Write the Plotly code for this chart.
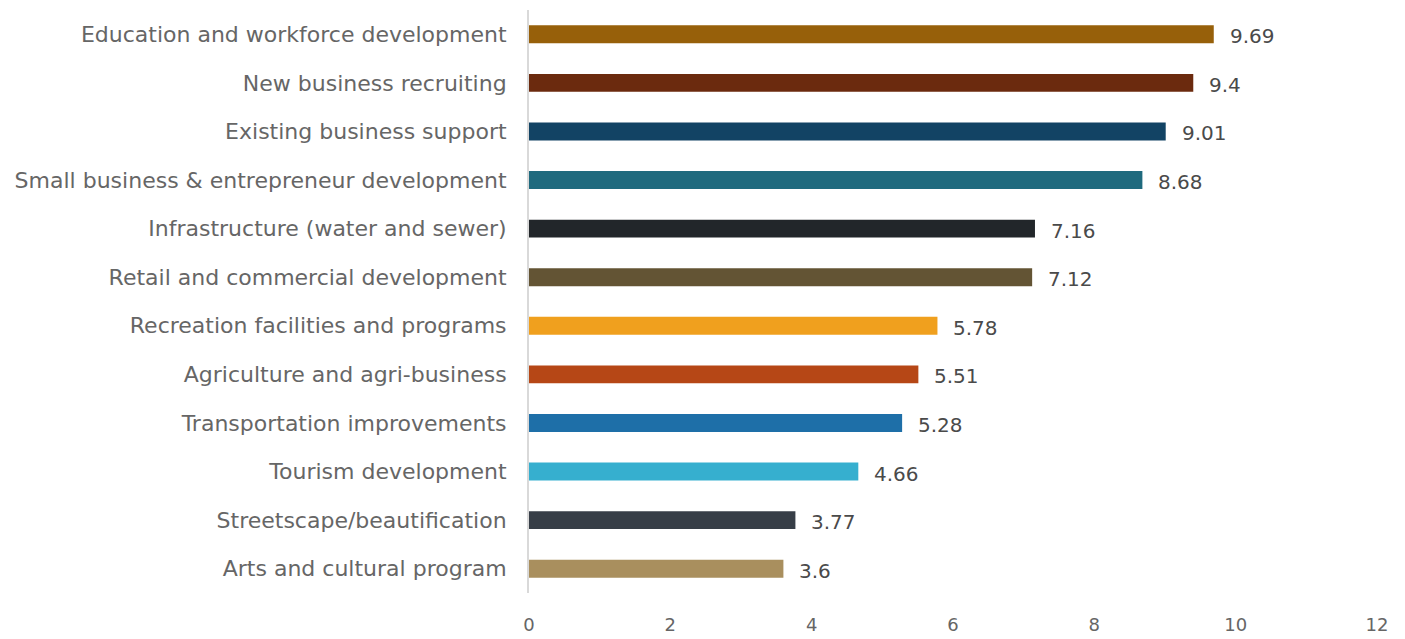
import plotly.graph_objects as go

# Priority areas, listed top to bottom
categories = [
    "Education and workforce development",
    "New business recruiting",
    "Existing business support",
    "Small business & entrepreneur development",
    "Infrastructure (water and sewer)",
    "Retail and commercial development",
    "Recreation facilities and programs",
    "Agriculture and agri-business",
    "Transportation improvements",
    "Tourism development",
    "Streetscape/beautification",
    "Arts and cultural program",
]
scores = [9.69, 9.4, 9.01, 8.68, 7.16, 7.12, 5.78, 5.51, 5.28, 4.66, 3.77, 3.6]
bar_colors = [
    "#97600A", "#6B2A0E", "#124364", "#1F6A7E", "#22262A", "#635434",
    "#F0A01E", "#B64716", "#1E6FA8", "#36AFCF", "#373E47", "#A98F5E",
]
x_ticks = [0, 2, 4, 6, 8, 10, 12]

FONT = "DejaVu Sans"

fig = go.Figure(
    go.Bar(
        x=scores,
        y=categories,
        orientation="h",
        marker=dict(color=bar_colors, line=dict(width=0)),
        width=0.37,
        hoverinfo="x+y",
    )
)

# Value labels to the right of each bar
for cat, val in zip(categories, scores):
    fig.add_annotation(
        x=val, y=cat, text=f"{val:g}", showarrow=False,
        xanchor="left", yanchor="middle", xshift=14, yshift=-2,
        font=dict(family=FONT, size=20, color="#4a4a4a"),
    )

fig.update_layout(
    width=1405, height=639,
    margin=dict(l=529, r=28, t=10, b=46, autoexpand=False),
    paper_bgcolor="white", plot_bgcolor="white",
    showlegend=False,
    font=dict(family=FONT, size=22, color="#666666"),
)
fig.update_xaxes(
    range=[0, 12], tickvals=x_ticks, ticktext=[str(t) for t in x_ticks],
    showgrid=False, zeroline=False, showline=False,
    ticks="", ticklabelstandoff=19, automargin=False,
    tickfont=dict(family=FONT, size=18, color="#666666"),
)
fig.update_yaxes(
    categoryorder="array", categoryarray=categories[::-1],
    range=[-0.5, len(categories) - 0.5],
    showgrid=False, zeroline=False,
    showline=True, linecolor="#D9D9D9", linewidth=2,
    ticks="", ticklabelstandoff=16, automargin=False,
    tickfont=dict(family=FONT, size=22, color="#666666"),
)

fig.write_html("out.html")
